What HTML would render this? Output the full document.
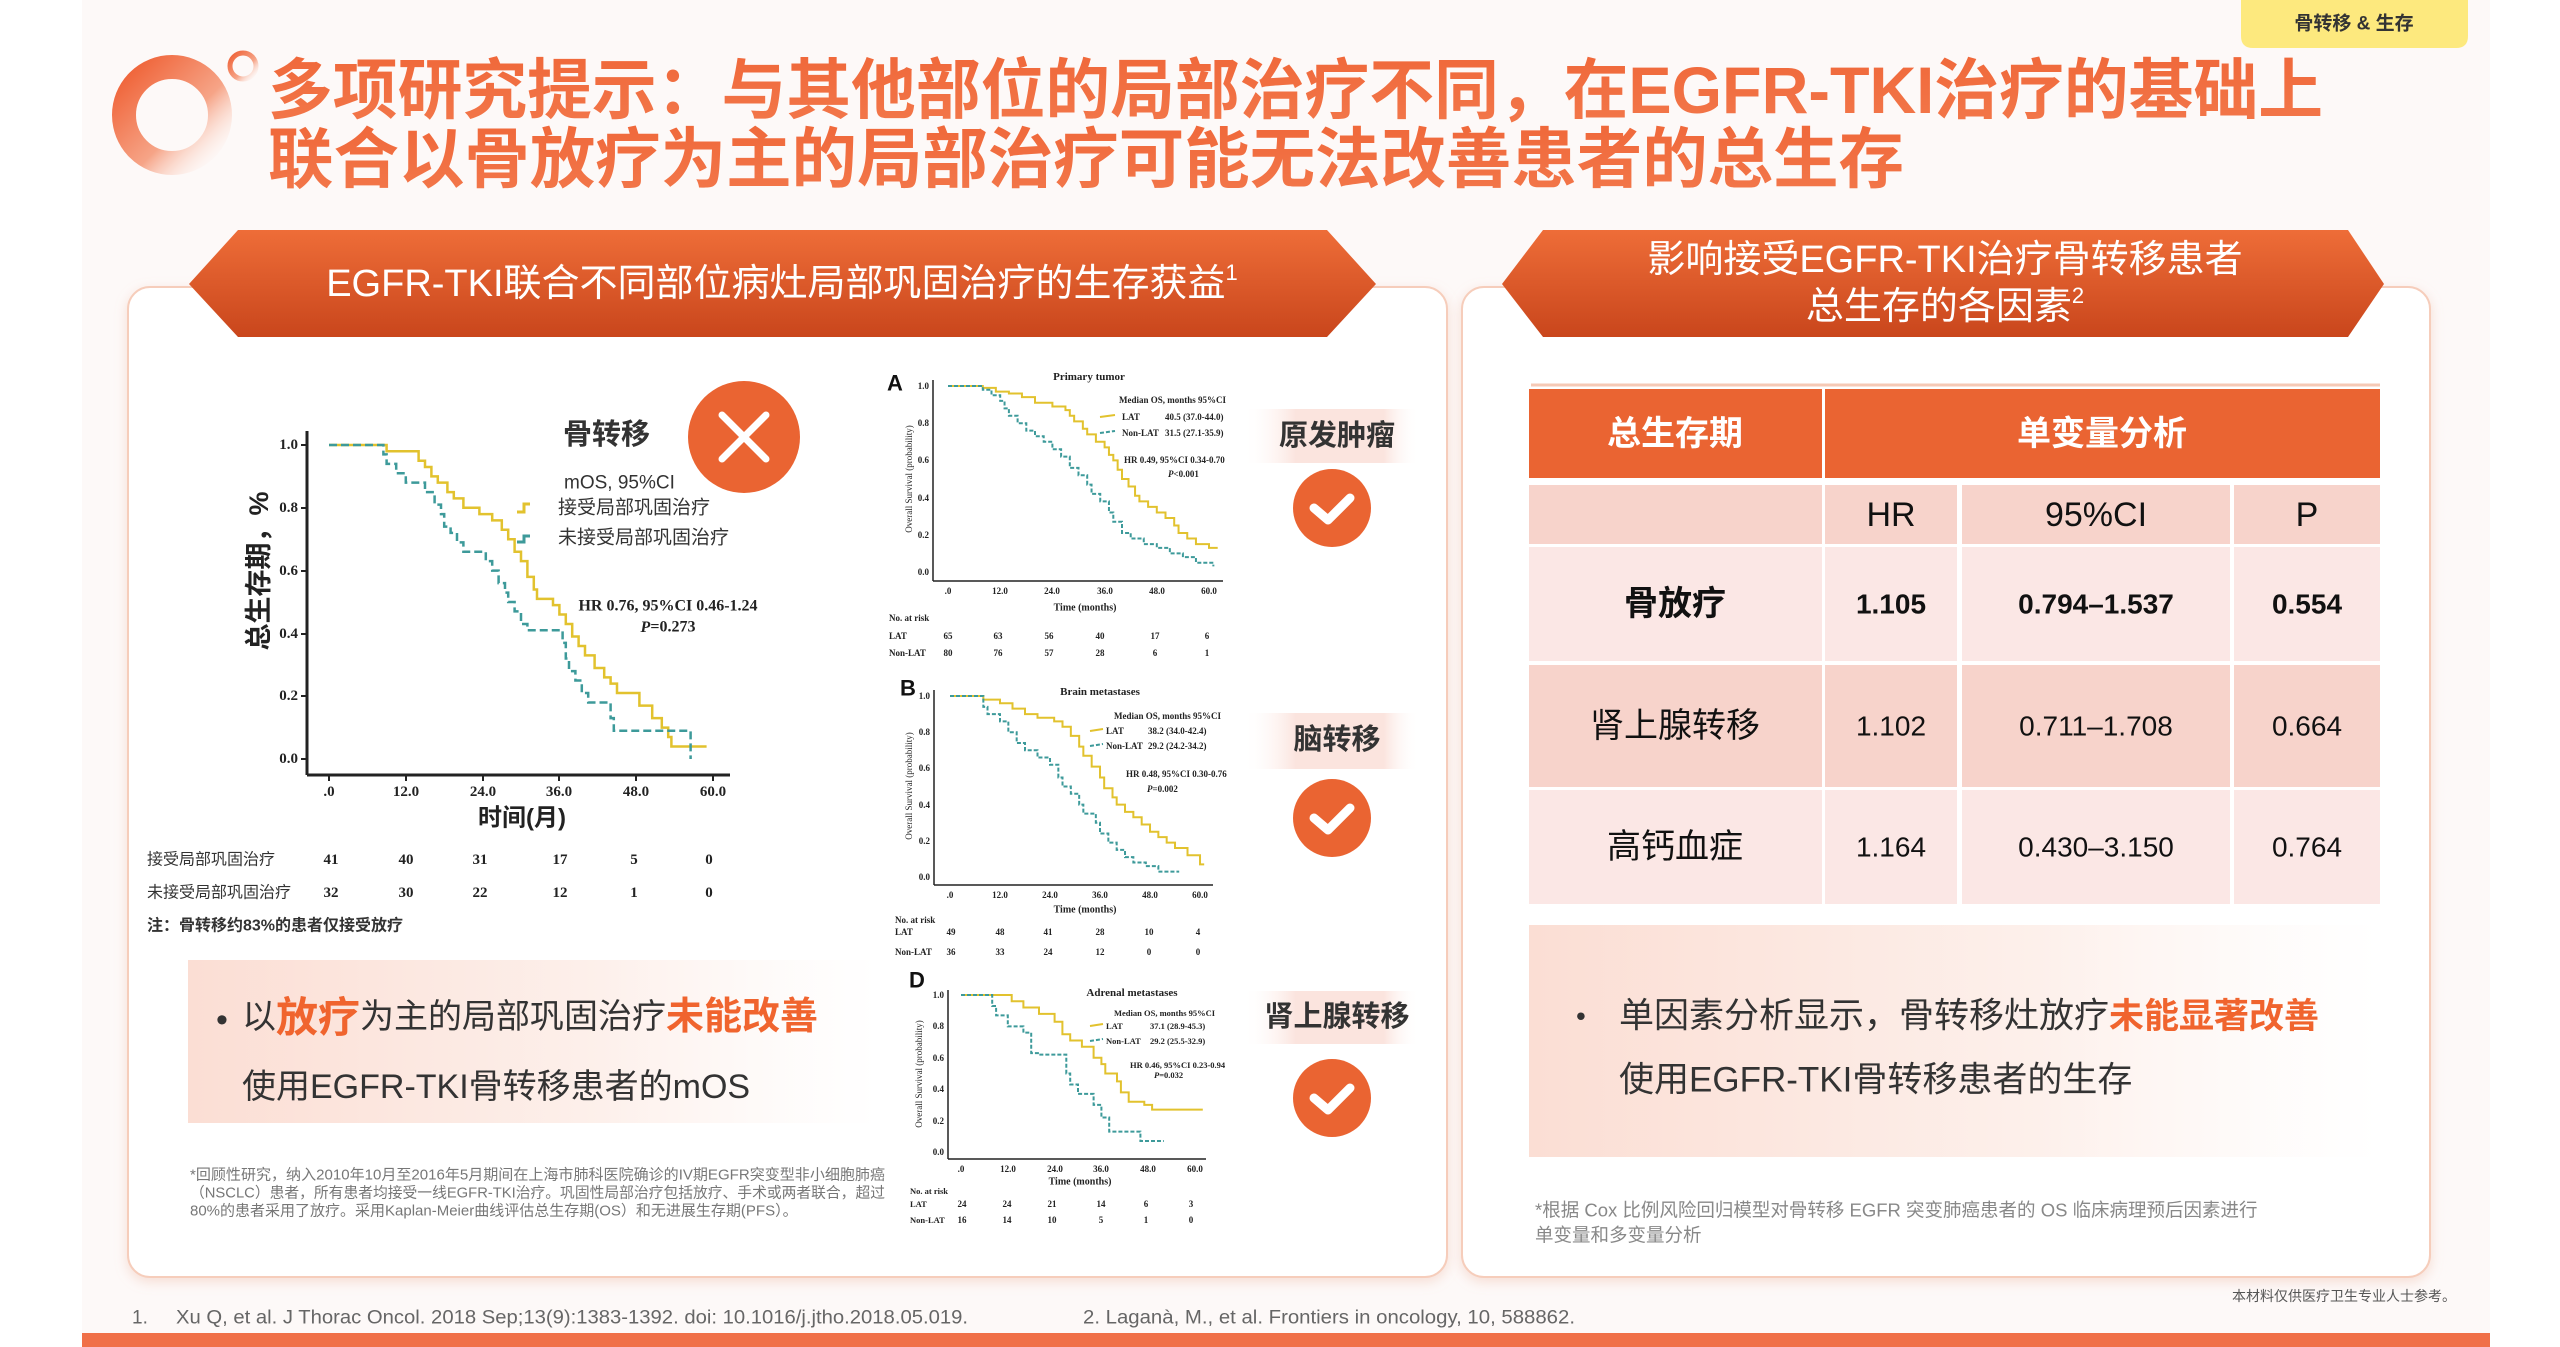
<!DOCTYPE html>
<html><head><meta charset="utf-8">
<style>
html,body{margin:0;padding:0;background:#fff;}
svg{display:block;}
.cjk{font-family:"Liberation Sans","Noto Sans CJK SC",sans-serif;}
.ser{font-family:"Liberation Serif","Noto Serif CJK SC",serif;font-weight:bold;}
</style></head>
<body>
<svg width="2560" height="1347" viewBox="0 0 2560 1347" xmlns="http://www.w3.org/2000/svg">
<defs>
<linearGradient id="ban" x1="0" y1="0" x2="0" y2="1"><stop offset="0" stop-color="#ee6d38"/><stop offset="1" stop-color="#c9461c"/></linearGradient>
<linearGradient id="ttl" x1="0" y1="0" x2="0" y2="1"><stop offset="0" stop-color="#f0683a"/><stop offset="1" stop-color="#f2774a"/></linearGradient>
<linearGradient id="ring" x1="0" y1="0" x2="1" y2="1"><stop offset="0" stop-color="#ef5f33"/><stop offset="0.6" stop-color="#f6a487"/><stop offset="1" stop-color="#fff" stop-opacity="0.2"/></linearGradient>
<linearGradient id="pinkbox" x1="0" y1="0" x2="1" y2="0"><stop offset="0" stop-color="#fbded4"/><stop offset="0.6" stop-color="#fdf0eb"/><stop offset="1" stop-color="#fff" stop-opacity="0.6"/></linearGradient>
<linearGradient id="lbl" x1="0" y1="0" x2="1" y2="0"><stop offset="0" stop-color="#fff" stop-opacity="0"/><stop offset="0.3" stop-color="#fbe4de"/><stop offset="0.8" stop-color="#fbe4de"/><stop offset="1" stop-color="#fff" stop-opacity="0"/></linearGradient>
<filter id="sh" x="-5%" y="-5%" width="110%" height="110%"><feDropShadow dx="0" dy="4" stdDeviation="6" flood-color="#e8a890" flood-opacity="0.35"/></filter>
</defs>

<rect x="82" y="0" width="2408" height="1347" fill="#fdf9f8"/>
<rect x="82" y="1333" width="2408" height="14" fill="#f07048"/>

<path d="M2241 0 H2468 V36 Q2468 48 2456 48 H2253 Q2241 48 2241 36 Z" fill="#fde97e"/>
<text x="2354" y="24" class="cjk" font-size="19" font-weight="bold" fill="#333" text-anchor="middle" dominant-baseline="central">骨转移 &amp; 生存</text>

<circle cx="172" cy="115" r="48" fill="none" stroke="url(#ring)" stroke-width="24"/>
<circle cx="243" cy="66" r="13" fill="none" stroke="url(#ring)" stroke-width="5"/>
<g class="cjk" font-size="66" font-weight="bold" fill="url(#ttl)">
<text x="268" y="90" dominant-baseline="central" textLength="2055" lengthAdjust="spacingAndGlyphs">多项研究提示：与其他部位的局部治疗不同，在EGFR-TKI治疗的基础上</text>
<text x="268" y="159" dominant-baseline="central" textLength="1636" lengthAdjust="spacingAndGlyphs">联合以骨放疗为主的局部治疗可能无法改善患者的总生存</text>
</g>

<rect x="128" y="287" width="1319" height="990" rx="22" fill="#fff" stroke="#f6cdbb" stroke-width="2" filter="url(#sh)"/>
<rect x="1462" y="287" width="968" height="990" rx="22" fill="#fff" stroke="#f6cdbb" stroke-width="2" filter="url(#sh)"/>

<polygon points="238,230 1327,230 1376,284 1327,337 238,337 189,284" fill="url(#ban)"/>
<text x="782" y="284" class="cjk" font-size="38" fill="#fff" text-anchor="middle" dominant-baseline="central">EGFR-TKI联合不同部位病灶局部巩固治疗的生存获益<tspan font-size="22" dy="-12">1</tspan></text>
<polygon points="1543,230 2348,230 2384,284 2348,337 1543,337 1502,284" fill="url(#ban)"/>
<text x="1945" y="260" class="cjk" font-size="38" fill="#fff" text-anchor="middle" dominant-baseline="central">影响接受EGFR-TKI治疗骨转移患者</text>
<text x="1945" y="307" class="cjk" font-size="38" fill="#fff" text-anchor="middle" dominant-baseline="central">总生存的各因素<tspan font-size="22" dy="-12">2</tspan></text>

<!-- LEFT KM -->
<g stroke="#222" stroke-width="3" fill="none">
<line x1="307" y1="431" x2="307" y2="775"/>
<line x1="307" y1="775" x2="730" y2="775"/>
</g>
<g stroke="#222" stroke-width="2">
<line x1="301" y1="445" x2="307" y2="445"/><line x1="301" y1="508" x2="307" y2="508"/><line x1="301" y1="571" x2="307" y2="571"/><line x1="301" y1="634" x2="307" y2="634"/><line x1="301" y1="696" x2="307" y2="696"/><line x1="301" y1="759" x2="307" y2="759"/>
<line x1="329" y1="775" x2="329" y2="781"/><line x1="406" y1="775" x2="406" y2="781"/><line x1="483" y1="775" x2="483" y2="781"/><line x1="559" y1="775" x2="559" y2="781"/><line x1="636" y1="775" x2="636" y2="781"/><line x1="713" y1="775" x2="713" y2="781"/>
</g>
<g class="ser" font-size="15" fill="#222" text-anchor="end" dominant-baseline="central">
<text x="298" y="445">1.0</text><text x="298" y="508">0.8</text><text x="298" y="571">0.6</text><text x="298" y="634">0.4</text><text x="298" y="696">0.2</text><text x="298" y="759">0.0</text>
</g>
<g class="ser" font-size="15" fill="#222" text-anchor="middle" dominant-baseline="central">
<text x="329" y="792">.0</text><text x="406" y="792">12.0</text><text x="483" y="792">24.0</text><text x="559" y="792">36.0</text><text x="636" y="792">48.0</text><text x="713" y="792">60.0</text>
</g>
<text transform="translate(259,571) rotate(-90)" class="cjk" font-size="27" font-weight="bold" fill="#222" text-anchor="middle" dominant-baseline="central">总生存期，%</text>
<text x="522" y="818" class="cjk" font-size="24" font-weight="bold" fill="#222" text-anchor="middle" dominant-baseline="central">时间(月)</text>
<g transform="translate(329,759) scale(6.4,-314)" fill="none">
<path vector-effect="non-scaling-stroke" stroke="#e2c22e" stroke-width="2.5" d="M0 1 H9 V0.98 H14 V0.95 H15 V0.93 H16 V0.90 H17 V0.88 H18.5 V0.85 H19.5 V0.83 H21 V0.80 H23.5 V0.78 H25.5 V0.76 H27 V0.73 H28 V0.70 H29 V0.66 H30 V0.63 H31 V0.58 H32 V0.54 H32.5 V0.51 H35 V0.49 H36 V0.46 H37 V0.43 H38 V0.39 H39 V0.36 H40 V0.33 H41.5 V0.29 H43 V0.26 H44 V0.24 H45 V0.21 H48.5 V0.17 H50.5 V0.13 H52 V0.10 H53 V0.07 H53.5 V0.04 H59"/>
<path vector-effect="non-scaling-stroke" stroke="#3d9a9a" stroke-width="2.5" stroke-dasharray="8,4" d="M0 1 H8.5 V0.97 H9 V0.94 H10.5 V0.91 H12 V0.88 H15 V0.85 H16.5 V0.81 H17.5 V0.78 H18 V0.74 H19 V0.72 H20 V0.69 H21 V0.66 H24.5 V0.63 H25.5 V0.60 H26.5 V0.56 H27.5 V0.53 H28 V0.50 H29 V0.47 H30 V0.43 H31 V0.41 H36.5 V0.37 H37 V0.32 H37.5 V0.28 H38.5 V0.25 H39.5 V0.21 H40.5 V0.18 H44 V0.13 H44.5 V0.09 H56.5 V0"/>
</g>
<text x="563" y="435" class="cjk" font-size="29" font-weight="bold" fill="#333" dominant-baseline="central">骨转移</text>
<circle cx="744" cy="437" r="56" fill="#ea6432"/>
<g stroke="#fff" stroke-width="7" stroke-linecap="round"><line x1="722" y1="415" x2="766" y2="459"/><line x1="766" y1="415" x2="722" y2="459"/></g>
<text x="564" y="483" class="cjk" font-size="19" fill="#333" dominant-baseline="central">mOS, 95%CI</text>
<path d="M517 512 H524 V504 H530" stroke="#e2c22e" stroke-width="3" fill="none"/>
<path d="M517 542 H524 V536 H530" stroke="#3d9a9a" stroke-width="3" fill="none"/>
<text x="558" y="508" class="cjk" font-size="19" fill="#333" dominant-baseline="central">接受局部巩固治疗</text>
<text x="558" y="538" class="cjk" font-size="19" fill="#333" dominant-baseline="central">未接受局部巩固治疗</text>
<text x="668" y="606" class="ser" font-size="16" fill="#222" text-anchor="middle" dominant-baseline="central">HR 0.76, 95%CI 0.46-1.24</text>
<text x="668" y="627" class="ser" font-size="16" fill="#222" text-anchor="middle" dominant-baseline="central"><tspan font-style="italic">P</tspan>=0.273</text>
<g class="cjk" font-size="16" fill="#333" dominant-baseline="central">
<text x="147" y="860">接受局部巩固治疗</text><text x="147" y="893">未接受局部巩固治疗</text>
<text x="147" y="926" font-size="16" font-weight="bold">注：骨转移约83%的患者仅接受放疗</text>
</g>
<g class="ser" font-size="15" fill="#222" text-anchor="middle" dominant-baseline="central">
<text x="331" y="860">41</text><text x="406" y="860">40</text><text x="480" y="860">31</text><text x="560" y="860">17</text><text x="634" y="860">5</text><text x="709" y="860">0</text>
<text x="331" y="893">32</text><text x="406" y="893">30</text><text x="480" y="893">22</text><text x="560" y="893">12</text><text x="634" y="893">1</text><text x="709" y="893">0</text>
</g>

<!-- A -->
<g stroke="#222" stroke-width="1.5" fill="none"><line x1="933" y1="380" x2="933" y2="581"/><line x1="933" y1="581" x2="1223" y2="581"/></g>
<text x="887" y="383" font-family="Liberation Sans" font-weight="bold" font-size="22" fill="#111" dominant-baseline="central">A</text>
<g class="ser" font-size="9" fill="#222">
<g text-anchor="end" dominant-baseline="central"><text x="929" y="386">1.0</text><text x="929" y="423">0.8</text><text x="929" y="460">0.6</text><text x="929" y="498">0.4</text><text x="929" y="535">0.2</text><text x="929" y="572">0.0</text></g>
<g text-anchor="middle" dominant-baseline="central"><text x="948" y="591">.0</text><text x="1000" y="591">12.0</text><text x="1052" y="591">24.0</text><text x="1105" y="591">36.0</text><text x="1157" y="591">48.0</text><text x="1209" y="591">60.0</text>
<text x="1089" y="377" font-size="11">Primary tumor</text><text x="1085" y="608" font-size="10">Time (months)</text></g>
<text transform="translate(912,479) rotate(-90)" text-anchor="middle" font-weight="normal" font-size="9">Overall Survival (probability)</text>
<g dominant-baseline="central"><text x="1119" y="400">Median OS, months 95%CI</text>
<text x="1122" y="417">LAT</text><text x="1165" y="417">40.5 (37.0-44.0)</text>
<text x="1122" y="433">Non-LAT</text><text x="1165" y="433">31.5 (27.1-35.9)</text>
<text x="1124" y="460">HR 0.49, 95%CI 0.34-0.70</text><text x="1168" y="474"><tspan font-style="italic">P</tspan>&lt;0.001</text>
<text x="889" y="618">No. at risk</text><text x="889" y="636">LAT</text><text x="889" y="653">Non-LAT</text></g>
<g text-anchor="middle" dominant-baseline="central">
<text x="948" y="636">65</text><text x="998" y="636">63</text><text x="1049" y="636">56</text><text x="1100" y="636">40</text><text x="1155" y="636">17</text><text x="1207" y="636">6</text>
<text x="948" y="653">80</text><text x="998" y="653">76</text><text x="1049" y="653">57</text><text x="1100" y="653">28</text><text x="1155" y="653">6</text><text x="1207" y="653">1</text></g>
</g>
<line x1="1100" y1="417" x2="1115" y2="415" stroke="#e2c22e" stroke-width="2"/>
<line x1="1100" y1="433" x2="1115" y2="431" stroke="#3d9a9a" stroke-width="2" stroke-dasharray="4,2"/>
<g transform="translate(948,572) scale(4.35,-186)" fill="none">
<path vector-effect="non-scaling-stroke" stroke="#e2c22e" stroke-width="2" d="M0 1 H8 V0.99 H11 V0.97 H14 V0.96 H17 V0.94 H20 V0.91 H24 V0.89 H27 V0.87 H28 V0.84 H29 V0.81 H31 V0.77 H32 V0.74 H34 V0.70 H36 V0.67 H37 V0.63 H38 V0.60 H39 V0.55 H40 V0.50 H41.5 V0.46 H43 V0.41 H44 V0.38 H46 V0.35 H48 V0.32 H50 V0.29 H52 V0.25 H53 V0.21 H55 V0.18 H57 V0.15 H60 V0.13 H62"/>
<path vector-effect="non-scaling-stroke" stroke="#3d9a9a" stroke-width="2" stroke-dasharray="4,2" d="M0 1 H8 V0.98 H10 V0.95 H12 V0.92 H13 V0.88 H14 V0.84 H16 V0.80 H18 V0.76 H20 V0.73 H22 V0.70 H24 V0.66 H26 V0.62 H28 V0.56 H30 V0.52 H32 V0.47 H33 V0.42 H35 V0.38 H37 V0.32 H38 V0.27 H40 V0.21 H42 V0.18 H45 V0.15 H48 V0.13 H51 V0.10 H54 V0.08 H57 V0.05 H61 V0.03"/>
</g>
<!-- B -->
<g stroke="#222" stroke-width="1.5" fill="none"><line x1="934" y1="690" x2="934" y2="885"/><line x1="934" y1="885" x2="1213" y2="885"/></g>
<text x="900" y="688" font-family="Liberation Sans" font-weight="bold" font-size="22" fill="#111" dominant-baseline="central">B</text>
<g class="ser" font-size="9" fill="#222">
<g text-anchor="end" dominant-baseline="central"><text x="930" y="696">1.0</text><text x="930" y="732">0.8</text><text x="930" y="768">0.6</text><text x="930" y="805">0.4</text><text x="930" y="841">0.2</text><text x="930" y="877">0.0</text></g>
<g text-anchor="middle" dominant-baseline="central"><text x="950" y="895">.0</text><text x="1000" y="895">12.0</text><text x="1050" y="895">24.0</text><text x="1100" y="895">36.0</text><text x="1150" y="895">48.0</text><text x="1200" y="895">60.0</text>
<text x="1100" y="692" font-size="11">Brain metastases</text><text x="1085" y="910" font-size="10">Time (months)</text></g>
<text transform="translate(912,786) rotate(-90)" text-anchor="middle" font-weight="normal" font-size="9">Overall Survival (probability)</text>
<g dominant-baseline="central"><text x="1114" y="716">Median OS, months 95%CI</text>
<text x="1106" y="731">LAT</text><text x="1148" y="731">38.2 (34.0-42.4)</text>
<text x="1106" y="746">Non-LAT</text><text x="1148" y="746">29.2 (24.2-34.2)</text>
<text x="1126" y="774">HR 0.48, 95%CI 0.30-0.76</text><text x="1147" y="789"><tspan font-style="italic">P</tspan>=0.002</text>
<text x="895" y="920">No. at risk</text><text x="895" y="932">LAT</text><text x="895" y="952">Non-LAT</text></g>
<g text-anchor="middle" dominant-baseline="central">
<text x="951" y="932">49</text><text x="1000" y="932">48</text><text x="1048" y="932">41</text><text x="1100" y="932">28</text><text x="1149" y="932">10</text><text x="1198" y="932">4</text>
<text x="951" y="952">36</text><text x="1000" y="952">33</text><text x="1048" y="952">24</text><text x="1100" y="952">12</text><text x="1149" y="952">0</text><text x="1198" y="952">0</text></g>
</g>
<line x1="1090" y1="731" x2="1103" y2="729" stroke="#e2c22e" stroke-width="2"/>
<line x1="1090" y1="746" x2="1103" y2="744" stroke="#3d9a9a" stroke-width="2" stroke-dasharray="4,2"/>
<g transform="translate(950,877) scale(4.167,-181)" fill="none">
<path vector-effect="non-scaling-stroke" stroke="#e2c22e" stroke-width="2" d="M0 1 H8 V0.98 H12 V0.96 H15 V0.93 H18 V0.90 H21 V0.88 H25 V0.86 H27 V0.83 H29 V0.78 H31 V0.72 H32 V0.67 H34 V0.61 H36 V0.55 H37 V0.49 H39 V0.44 H40 V0.40 H42 V0.36 H44 V0.33 H46 V0.29 H48 V0.25 H50 V0.22 H52 V0.19 H54 V0.16 H57 V0.12 H60 V0.07 H61"/>
<path vector-effect="non-scaling-stroke" stroke="#3d9a9a" stroke-width="2" stroke-dasharray="4,2" d="M0 1 H8 V0.94 H9 V0.90 H12 V0.86 H14 V0.80 H16 V0.74 H18 V0.70 H21 V0.66 H24 V0.62 H26 V0.55 H27 V0.50 H29 V0.46 H31 V0.40 H32 V0.35 H35 V0.30 H36 V0.24 H38 V0.19 H40 V0.15 H42 V0.11 H44 V0.08 H47 V0.06 H50 V0.03 H55"/>
</g>
<!-- D -->
<g stroke="#222" stroke-width="1.5" fill="none"><line x1="948" y1="990" x2="948" y2="1159"/><line x1="948" y1="1159" x2="1206" y2="1159"/></g>
<text x="909" y="980" font-family="Liberation Sans" font-weight="bold" font-size="22" fill="#111" dominant-baseline="central">D</text>
<g class="ser" font-size="9" fill="#222">
<g text-anchor="end" dominant-baseline="central"><text x="944" y="995">1.0</text><text x="944" y="1026">0.8</text><text x="944" y="1058">0.6</text><text x="944" y="1089">0.4</text><text x="944" y="1121">0.2</text><text x="944" y="1152">0.0</text></g>
<g text-anchor="middle" dominant-baseline="central"><text x="961" y="1169">.0</text><text x="1008" y="1169">12.0</text><text x="1055" y="1169">24.0</text><text x="1101" y="1169">36.0</text><text x="1148" y="1169">48.0</text><text x="1195" y="1169">60.0</text>
<text x="1132" y="993" font-size="11">Adrenal metastases</text><text x="1080" y="1182" font-size="10">Time (months)</text></g>
<text transform="translate(922,1074) rotate(-90)" text-anchor="middle" font-weight="normal" font-size="9">Overall Survival (probability)</text>
<g dominant-baseline="central" font-size="8.5"><text x="1114" y="1013">Median OS, months 95%CI</text>
<text x="1106" y="1026">LAT</text><text x="1150" y="1026">37.1 (28.9-45.3)</text>
<text x="1106" y="1041">Non-LAT</text><text x="1150" y="1041">29.2 (25.5-32.9)</text>
<text x="1130" y="1065">HR 0.46, 95%CI 0.23-0.94</text><text x="1154" y="1075"><tspan font-style="italic">P</tspan>=0.032</text>
<text x="910" y="1191">No. at risk</text><text x="910" y="1204">LAT</text><text x="910" y="1220">Non-LAT</text></g>
<g text-anchor="middle" dominant-baseline="central">
<text x="962" y="1204">24</text><text x="1007" y="1204">24</text><text x="1052" y="1204">21</text><text x="1101" y="1204">14</text><text x="1146" y="1204">6</text><text x="1191" y="1204">3</text>
<text x="962" y="1220">16</text><text x="1007" y="1220">14</text><text x="1052" y="1220">10</text><text x="1101" y="1220">5</text><text x="1146" y="1220">1</text><text x="1191" y="1220">0</text></g>
</g>
<line x1="1090" y1="1026" x2="1103" y2="1024" stroke="#e2c22e" stroke-width="2"/>
<line x1="1090" y1="1041" x2="1103" y2="1039" stroke="#3d9a9a" stroke-width="2" stroke-dasharray="4,2"/>
<g transform="translate(961,1152) scale(3.9,-157)" fill="none">
<path vector-effect="non-scaling-stroke" stroke="#e2c22e" stroke-width="2" d="M0 1 H13 V0.96 H16 V0.92 H20 V0.88 H24 V0.83 H26 V0.75 H28 V0.71 H31 V0.67 H34 V0.60 H36 V0.56 H37 V0.50 H40 V0.45 H41 V0.38 H43 V0.32 H47 V0.30 H49 V0.27 H62"/>
<path vector-effect="non-scaling-stroke" stroke="#3d9a9a" stroke-width="2" stroke-dasharray="4,2" d="M0 1 H8 V0.93 H9 V0.87 H12 V0.80 H16 V0.76 H18 V0.63 H20 V0.62 H27 V0.50 H28 V0.43 H30 V0.37 H34 V0.30 H36 V0.22 H38 V0.13 H46 V0.07 H52"/>
</g>

<rect x="1243" y="409" width="176" height="54" fill="url(#lbl)"/>
<rect x="1243" y="713" width="176" height="56" fill="url(#lbl)"/>
<rect x="1243" y="991" width="176" height="53" fill="url(#lbl)"/>
<g class="cjk" font-size="29" font-weight="bold" fill="#333" text-anchor="middle" dominant-baseline="central">
<text x="1337" y="436">原发肿瘤</text><text x="1337" y="740">脑转移</text><text x="1337" y="1017">肾上腺转移</text>
</g>
<g fill="#ea6432"><circle cx="1332" cy="508" r="39"/><circle cx="1332" cy="818" r="39"/><circle cx="1332" cy="1098" r="39"/></g>
<g stroke="#fff" stroke-width="9" stroke-linecap="round" stroke-linejoin="round" fill="none">
<path d="M1314 508 L1328 520 L1350 498"/><path d="M1314 818 L1328 830 L1350 808"/><path d="M1314 1098 L1328 1110 L1350 1088"/>
</g>

<rect x="188" y="960" width="690" height="163" fill="url(#pinkbox)"/>
<g class="cjk" fill="#333" dominant-baseline="central">
<text x="216" y="1020" font-size="34">•</text>
<text x="242" y="1017" font-size="34">以<tspan fill="#f0642e" font-size="42" font-weight="bold">放疗</tspan>为主的局部巩固治疗<tspan fill="#f0642e" font-size="38" font-weight="bold">未能改善</tspan></text>
<text x="242" y="1087" font-size="34">使用EGFR-TKI骨转移患者的mOS</text>
</g>
<g class="cjk" font-size="15" fill="#777" dominant-baseline="central">
<text x="190" y="1175" textLength="695" lengthAdjust="spacingAndGlyphs">*回顾性研究，纳入2010年10月至2016年5月期间在上海市肺科医院确诊的IV期EGFR突变型非小细胞肺癌</text>
<text x="190" y="1193" textLength="695" lengthAdjust="spacingAndGlyphs">（NSCLC）患者，所有患者均接受一线EGFR-TKI治疗。巩固性局部治疗包括放疗、手术或两者联合，超过</text>
<text x="190" y="1211">80%的患者采用了放疗。采用Kaplan-Meier曲线评估总生存期(OS）和无进展生存期(PFS）。</text>
</g>

<!-- TABLE -->
<line x1="1531" y1="385" x2="2380" y2="385" stroke="#f6c9b5" stroke-width="3"/>
<rect x="1529" y="389" width="293" height="89" fill="#ea6432"/>
<rect x="1825" y="389" width="555" height="89" fill="#ea6432"/>
<g fill="#f7d3cb">
<rect x="1529" y="485" width="293" height="59"/><rect x="1825" y="485" width="132" height="59"/><rect x="1962" y="485" width="268" height="59"/><rect x="2234" y="485" width="146" height="59"/>
<rect x="1529" y="665" width="293" height="122"/><rect x="1825" y="665" width="132" height="122"/><rect x="1962" y="665" width="268" height="122"/><rect x="2234" y="665" width="146" height="122"/>
</g>
<g fill="#fbe7e5">
<rect x="1529" y="547" width="293" height="114"/><rect x="1825" y="547" width="132" height="114"/><rect x="1962" y="547" width="268" height="114"/><rect x="2234" y="547" width="146" height="114"/>
<rect x="1529" y="790" width="293" height="114"/><rect x="1825" y="790" width="132" height="114"/><rect x="1962" y="790" width="268" height="114"/><rect x="2234" y="790" width="146" height="114"/>
</g>
<g class="cjk" text-anchor="middle" dominant-baseline="central">
<text x="1675" y="434" font-size="34" font-weight="bold" fill="#fff">总生存期</text>
<text x="2102" y="434" font-size="34" font-weight="bold" fill="#fff">单变量分析</text>
<g font-size="34" fill="#111"><text x="1891" y="515">HR</text><text x="2096" y="515">95%CI</text><text x="2307" y="515">P</text></g>
<g font-size="34" font-weight="bold" fill="#111"><text x="1675" y="604">骨放疗</text></g>
<g font-size="34" fill="#111"><text x="1675" y="726">肾上腺转移</text><text x="1675" y="847">高钙血症</text></g>
<g font-size="28" fill="#111">
<text x="1891" y="604" font-weight="bold">1.105</text><text x="2096" y="604" font-weight="bold">0.794–1.537</text><text x="2307" y="604" font-weight="bold">0.554</text>
<text x="1891" y="726">1.102</text><text x="2096" y="726">0.711–1.708</text><text x="2307" y="726">0.664</text>
<text x="1891" y="847">1.164</text><text x="2096" y="847">0.430–3.150</text><text x="2307" y="847">0.764</text>
</g>
</g>
<rect x="1529" y="925" width="851" height="232" fill="url(#pinkbox)"/>
<g class="cjk" fill="#333" dominant-baseline="central" font-size="35">
<text x="1576" y="1016" font-size="28">•</text>
<text x="1619" y="1016">单因素分析显示，骨转移灶放疗<tspan fill="#f0642e" font-weight="bold">未能显著改善</tspan></text>
<text x="1619" y="1080">使用EGFR-TKI骨转移患者的生存</text>
</g>
<g class="cjk" font-size="18.5" fill="#888" dominant-baseline="central">
<text x="1535" y="1210">*根据 Cox 比例风险回归模型对骨转移 EGFR 突变肺癌患者的 OS 临床病理预后因素进行</text>
<text x="1535" y="1235">单变量和多变量分析</text>
</g>

<g class="cjk" font-size="19" fill="#666" dominant-baseline="central">
<text x="132" y="1318">1.</text>
<text x="176" y="1318" textLength="792" lengthAdjust="spacingAndGlyphs">Xu Q, et al. J Thorac Oncol. 2018 Sep;13(9):1383-1392. doi: 10.1016/j.jtho.2018.05.019.</text>
<text x="1083" y="1318" textLength="492" lengthAdjust="spacingAndGlyphs">2. Laganà, M., et al. Frontiers in oncology, 10, 588862.</text>
<text x="2232" y="1296" font-size="14" fill="#555">本材料仅供医疗卫生专业人士参考。</text>
</g>
</svg>
</body></html>
